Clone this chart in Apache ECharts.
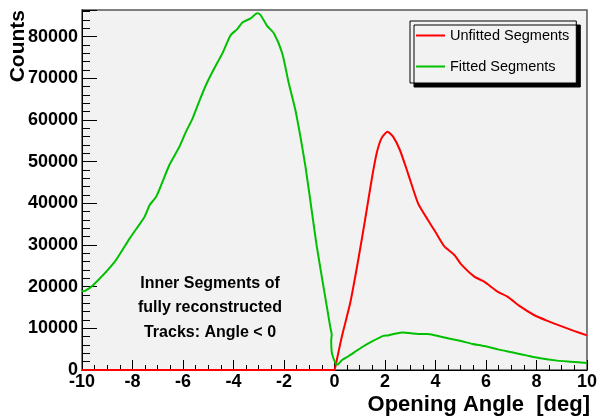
<!DOCTYPE html>
<html>
<head>
<meta charset="utf-8">
<script src="https://cdn.jsdelivr.net/npm/echarts@6/dist/echarts.min.js"></script>
<style>
  html, body { margin: 0; padding: 0; background: #fff; }
  #chart { width: 600px; height: 418px; }
</style>
</head>
<body>
<div id="chart"></div>
<script>
// opening angle [deg] / counts
var unfittedAngle  = [-10, 0, 0.02, 0.29, 0.62, 0.94, 1.21, 1.47, 1.67, 1.86, 2.1, 2.32, 2.59, 2.91, 3.31, 3.7, 4.03, 4.36, 4.75, 5.01, 5.54, 5.93, 6.46, 6.85, 7.37, 7.9, 8.43, 8.95, 9.48, 10];
var unfittedCounts = [0, 0, 400, 8000, 16000, 26400, 36000, 45600, 52000, 55600, 57200, 56000, 52800, 47200, 40000, 36000, 32800, 29600, 27600, 25400, 22400, 21200, 18800, 17600, 15200, 13200, 11800, 10600, 9400, 8300];

var fittedAngle  = [-10, -9.88, -9.55, -8.7, -8.11, -7.52, -7.32, -7.06, -6.54, -6.14, -5.88, -5.62, -5.35, -5.09, -4.76, -4.44, -4.11, -3.85, -3.65, -3.32, -3.06, -2.93, -2.67, -2.4, -2.07, -1.81, -1.55, -1.35, -1.15, -0.96, -0.7, -0.37, -0.17, -0.11, -0.13, -0.1, 0.05, 0.12, 0.3, 0.55, 1.07, 1.47, 1.93, 2.13, 2.39, 2.72, 3.04, 3.31, 3.7, 4.22, 4.49, 5.01, 5.47, 5.93, 6.46, 7.11, 7.64, 8.16, 8.82, 9.34, 10];
var fittedCounts = [18900, 19000, 20400, 26000, 31600, 36800, 39600, 41600, 49200, 53600, 57200, 60400, 64600, 68400, 72400, 76000, 80400, 81800, 83400, 84400, 85600, 85200, 82600, 80800, 76000, 68800, 62400, 56000, 48800, 40800, 29600, 17600, 10400, 8400, 7200, 4000, 1500, 1300, 2400, 3300, 5400, 6800, 8200, 8300, 8700, 9000, 8800, 8650, 8650, 8000, 7600, 6950, 6250, 5750, 4950, 4150, 3450, 2800, 2250, 2000, 1700];

var seriesNames = ['Unfitted Segments', 'Fitted Segments'];
var seriesColors = ['#ff0000', '#00c000'];
var annotation = ['Inner Segments of', 'fully reconstructed', 'Tracks: Angle < 0'];

function pairs(xs, ys) {
  var out = [];
  for (var i = 0; i < xs.length; i++) out.push([xs[i], ys[i]]);
  return out;
}

var FONT = '"Liberation Sans", Arial, Helvetica, sans-serif';
var chart = echarts.init(document.getElementById('chart'));

chart.setOption({
  animation: false,
  grid: {
    left: 82, right: 10, top: 10, bottom: 48,
    show: true,
    backgroundColor: '#f2f2f2',
    borderColor: '#555',
    borderWidth: 1.5
  },
  legend: {
    orient: 'vertical',
    left: 410,
    top: 21,
    padding: [7, 7, 9, 6],
    itemGap: 16,
    itemWidth: 29,
    itemHeight: 2,
    backgroundColor: '#f2f2f2',
    borderColor: '#000',
    borderWidth: 1,
    borderRadius: 0,
    shadowColor: '#000',
    shadowBlur: 0,
    shadowOffsetX: 4,
    shadowOffsetY: 4,
    textStyle: { fontFamily: FONT, fontSize: 14.5, color: '#000' },
    data: [
      { name: seriesNames[0], icon: 'rect' },
      { name: seriesNames[1], icon: 'rect' }
    ]
  },
  xAxis: {
    type: 'value',
    min: -10,
    max: 10,
    interval: 2,
    axisLine: { show: true, onZero: false, lineStyle: { color: '#000', width: 1 } },
    axisTick: { inside: true, length: 10, lineStyle: { color: '#000' } },
    minorTick: { show: true, splitNumber: 4, length: 5, lineStyle: { color: '#000' } },
    axisLabel: { fontFamily: FONT, fontWeight: 'bold', fontSize: 18, color: '#000', margin: 3 },
    splitLine: { show: false }
  },
  yAxis: {
    type: 'value',
    min: 0,
    max: 86400,
    interval: 10000,
    axisLine: { show: true, onZero: false, lineStyle: { color: '#000', width: 1 } },
    axisTick: { inside: true, length: 15, lineStyle: { color: '#000' } },
    minorTick: { show: true, splitNumber: 5, length: 8, lineStyle: { color: '#000' } },
    axisLabel: {
      showMaxLabel: false,
      formatter: function (v) { return String(v); },
      fontFamily: FONT, fontWeight: 'bold', fontSize: 18, color: '#000', margin: 4
    },
    splitLine: { show: false }
  },
  series: [
    {
      name: seriesNames[0],
      type: 'line',
      data: pairs(unfittedAngle, unfittedCounts),
      showSymbol: false,
      smooth: 0.2,
      lineStyle: { color: seriesColors[0], width: 2 },
      itemStyle: { color: seriesColors[0] }
    },
    {
      name: seriesNames[1],
      type: 'line',
      data: pairs(fittedAngle, fittedCounts),
      showSymbol: false,
      smooth: 0.2,
      lineStyle: { color: seriesColors[1], width: 2 },
      itemStyle: { color: seriesColors[1] }
    }
  ],
  graphic: [
    {
      type: 'text',
      x: 18, y: 10,
      rotation: Math.PI / 2,
      style: { text: 'Counts', font: 'bold 21px ' + FONT, fill: '#000', align: 'right', verticalAlign: 'middle' }
    },
    {
      type: 'text',
      x: 590, y: 405,
      style: { text: 'Opening Angle  [deg]', font: 'bold 22px ' + FONT, fill: '#000', align: 'right', verticalAlign: 'middle' }
    },
    {
      type: 'text',
      x: 210, y: 308,
      style: { text: annotation.join('\n'), font: 'bold 16px ' + FONT, lineHeight: 24.5, fill: '#000', align: 'center', verticalAlign: 'middle' }
    }
  ]
});
</script>
</body>
</html>
